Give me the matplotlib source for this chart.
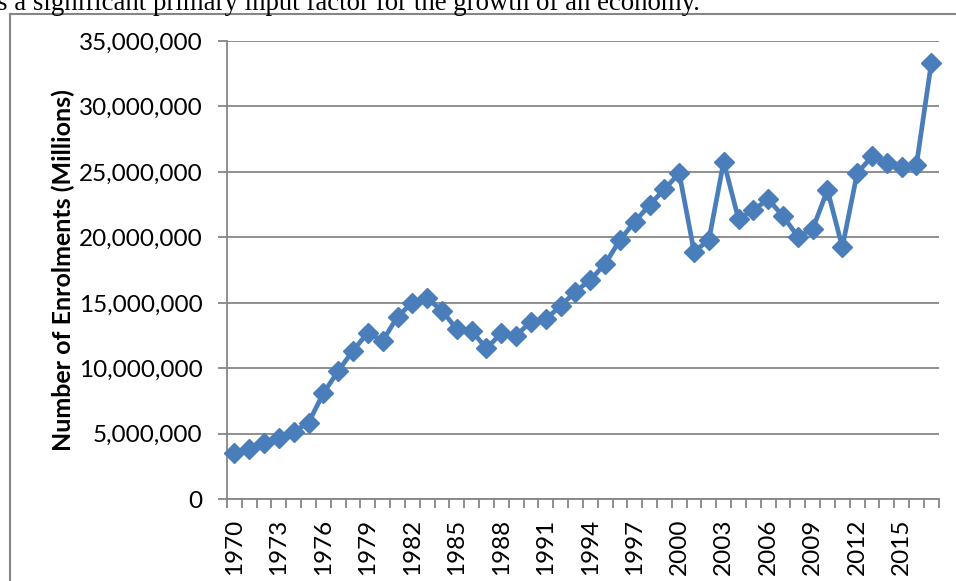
import matplotlib
matplotlib.use("Agg")
import matplotlib.pyplot as plt
from matplotlib.ticker import FuncFormatter, FixedLocator

# enrolments per year
years = list(range(1970, 2018))
enrolments = [
    3.51e6, 3.83e6, 4.32e6, 4.66e6, 5.17e6, 5.85e6, 8.10e6, 9.80e6,
    11.35e6, 12.73e6, 12.10e6, 13.95e6, 15.02e6, 15.35e6, 14.40e6, 13.00e6,
    12.86e6, 11.53e6, 12.68e6, 12.50e6, 13.57e6, 13.75e6, 14.77e6, 15.86e6,
    16.75e6, 17.97e6, 19.80e6, 21.20e6, 22.48e6, 23.68e6, 24.90e6, 18.92e6,
    19.80e6, 25.79e6, 21.39e6, 22.10e6, 22.90e6, 21.64e6, 20.06e6, 20.63e6,
    23.63e6, 19.25e6, 24.90e6, 26.18e6, 25.72e6, 25.36e6, 25.54e6, 33.31e6,
]
y_ticks = [0, 5e6, 10e6, 15e6, 20e6, 25e6, 30e6, 35e6]
y_label = "Number of Enrolments (Millions)"
caption = "s a significant primary input factor for the growth of an economy."

W, H = 956, 581
fig = plt.figure(figsize=(W / 100, H / 100), dpi=100)
plt.rcParams['font.family'] = ['Lato', 'DejaVu Sans']

grey = '#868686'
blue = '#4a7ebb'

# page-like frame and cut-off sentence above the chart
fig.add_artist(plt.Line2D([10 / W, 10 / W], [0, 1 - 14 / H], color=grey, lw=1.5))
fig.add_artist(plt.Line2D([10 / W, 1], [1 - 14 / H, 1 - 14 / H], color=grey, lw=1.5))
fig.text(-0.003, 1 - 10.5 / H, caption, family='Liberation Serif', fontsize=19.3,
         va='baseline', ha='left', color='black')

left, right, top, bottom = 227, 938.7, 41, 499.3
ax = fig.add_axes([left / W, 1 - bottom / H, (right - left) / W, (bottom - top) / H])

xs = list(range(len(years)))
ax.plot(xs, enrolments, color=blue, lw=3.4, marker='D', markersize=10.5,
        markerfacecolor=blue, markeredgecolor=blue, zorder=3, clip_on=False)

ax.set_xlim(-0.5, len(years) - 0.5)
ax.set_ylim(0, 35e6)

ax.set_yticks(y_ticks)
ax.yaxis.set_major_formatter(FuncFormatter(lambda v, p: f"{int(v):,}"))
ax.grid(axis='y', color=grey, lw=1.3)
ax.set_axisbelow(True)

label_idx = [i for i in xs if (years[i] - 1970) % 3 == 0]
ax.xaxis.set_major_locator(FixedLocator(label_idx))
ax.set_xticklabels([str(years[i]) for i in label_idx], rotation=90)
ax.xaxis.set_minor_locator(FixedLocator([i - 0.5 for i in range(len(years) + 1)]))

ax.tick_params(axis='x', which='major', length=0, pad=14, labelsize=17.5)
ax.tick_params(axis='x', which='minor', length=6.5, width=1.3, color=grey, direction='out')
ax.tick_params(axis='y', length=6.5, width=1.3, color=grey, pad=11, labelsize=17.5)

for s in ['top', 'right']:
    ax.spines[s].set_visible(False)
for s in ['left', 'bottom']:
    ax.spines[s].set_color(grey)
    ax.spines[s].set_linewidth(1.3)

ax.set_ylabel(y_label, fontsize=18, fontweight='bold')
ax.yaxis.set_label_coords((75 - left) / (right - left), 0.5)

fig.savefig("out.png", dpi=100)
